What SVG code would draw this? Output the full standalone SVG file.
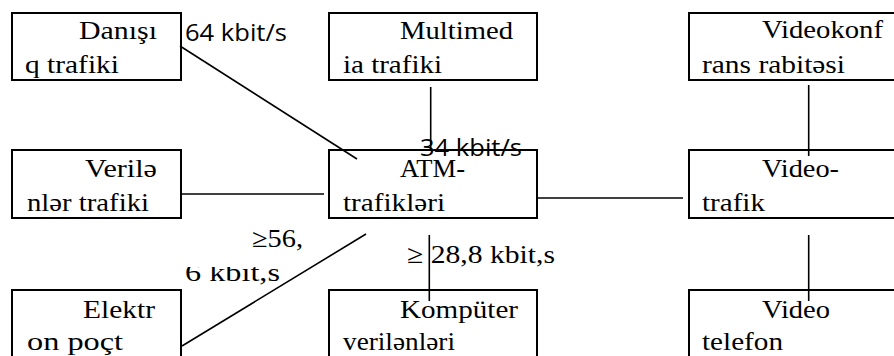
<svg xmlns="http://www.w3.org/2000/svg" width="894" height="356" viewBox="0 0 894 356">
<style>
.box{fill:#fff;stroke:#000;stroke-width:2}
.t{font-family:"Liberation Serif","Times New Roman",serif;font-size:26px;fill:#000}
.s{font-family:"Open Sans","Noto Sans",sans-serif;font-size:24px;fill:#000}
.c{stroke:#000;stroke-width:1.6;fill:none}
</style>
<defs>
<clipPath id="cut1"><rect x="150" y="267" width="160" height="40"/></clipPath>
</defs>
<rect width="894" height="356" fill="#fff"/>
<g id="n-danisiq"><rect class="box" x="12" y="13" width="169" height="67"/>
<text class="t" x="79" y="39" textLength="78" lengthAdjust="spacingAndGlyphs">Danışı</text>
<text class="t" x="25" y="73" textLength="94" lengthAdjust="spacingAndGlyphs">q trafiki</text></g>
<g id="n-multimedia"><rect class="box" x="329" y="13" width="208" height="67"/>
<text class="t" x="400" y="38.5" textLength="113" lengthAdjust="spacingAndGlyphs">Multimed</text>
<text class="t" x="343" y="73" textLength="99" lengthAdjust="spacingAndGlyphs">ia trafiki</text></g>
<g id="n-videokonf"><rect class="box" x="689" y="13" width="220" height="67"/>
<text class="t" x="762" y="38" textLength="121" lengthAdjust="spacingAndGlyphs">Videokonf</text>
<text class="t" x="702" y="73" textLength="143" lengthAdjust="spacingAndGlyphs">rans rabitəsi</text></g>
<g id="n-verilenler"><rect class="box" x="12" y="150" width="169" height="68"/>
<text class="t" x="85" y="177" textLength="72" lengthAdjust="spacingAndGlyphs">Verilə</text>
<text class="t" x="27" y="211" textLength="122" lengthAdjust="spacingAndGlyphs">nlər trafiki</text></g>
<g id="n-atm"><rect class="box" x="329" y="150" width="208" height="68"/>
<text class="t" x="400" y="177" textLength="65" lengthAdjust="spacingAndGlyphs">ATM-</text>
<text class="t" x="343" y="211" textLength="102" lengthAdjust="spacingAndGlyphs">trafikləri</text></g>
<g id="n-videotrafik"><rect class="box" x="689" y="150" width="220" height="68"/>
<text class="t" x="762" y="177" textLength="77" lengthAdjust="spacingAndGlyphs">Video-</text>
<text class="t" x="702" y="211" textLength="63" lengthAdjust="spacingAndGlyphs">trafik</text></g>
<g id="n-elektron"><rect class="box" x="12" y="290" width="169" height="80"/>
<text class="t" x="83" y="318" textLength="72" lengthAdjust="spacingAndGlyphs">Elektr</text>
<text class="t" x="27" y="350" textLength="96" lengthAdjust="spacingAndGlyphs">on poçt</text></g>
<g id="n-kompyuter"><rect class="box" x="329" y="290" width="208" height="80"/>
<text class="t" x="400" y="318" textLength="118" lengthAdjust="spacingAndGlyphs">Kompüter</text>
<text class="t" x="343" y="350" textLength="112" lengthAdjust="spacingAndGlyphs">verilənləri</text></g>
<g id="n-videotelefon"><rect class="box" x="689" y="290" width="220" height="80"/>
<text class="t" x="762" y="318" textLength="68" lengthAdjust="spacingAndGlyphs">Video</text>
<text class="t" x="702" y="350" textLength="81" lengthAdjust="spacingAndGlyphs">telefon</text></g>
<g id="connectors">
<line class="c" x1="180" y1="46" x2="357" y2="159"/>
<line class="c" x1="430.7" y1="87" x2="430.7" y2="150"/>
<line class="c" x1="808.7" y1="85" x2="808.7" y2="156"/>
<line class="c" x1="182" y1="194" x2="324" y2="194"/>
<line class="c" x1="537" y1="198" x2="683" y2="198"/>
<line class="c" x1="808.7" y1="235" x2="808.7" y2="301"/>
<line class="c" x1="429.3" y1="235" x2="429.3" y2="301"/>
<line class="c" x1="182" y1="346" x2="366" y2="234"/>
</g>
<g id="labels">
<text class="s" x="185" y="41" textLength="102" lengthAdjust="spacingAndGlyphs">64 kbit/s</text>
<text class="s" x="420" y="156" textLength="102" lengthAdjust="spacingAndGlyphs">34 kbit/s</text>
<text class="t" x="252" y="247" textLength="51" lengthAdjust="spacingAndGlyphs">≥56,</text>
<text class="t" x="185" y="281" textLength="95" lengthAdjust="spacingAndGlyphs" clip-path="url(#cut1)">6 kbit,s</text>
<text class="t" x="407" y="263" textLength="148" lengthAdjust="spacingAndGlyphs">≥ 28,8 kbit,s</text>
</g>
</svg>
